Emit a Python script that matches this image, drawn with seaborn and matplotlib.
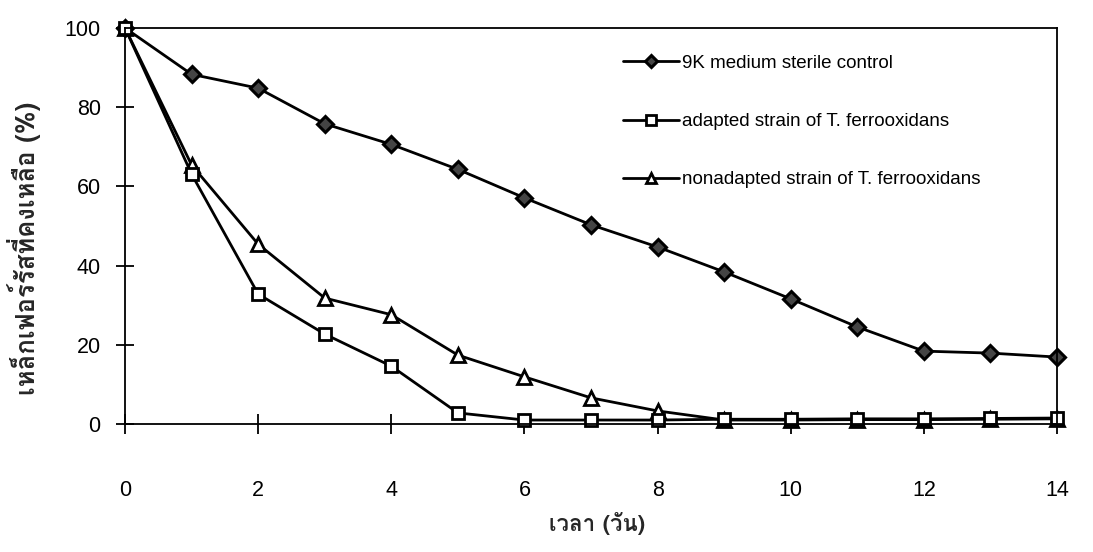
import matplotlib
matplotlib.use("Agg")
import matplotlib.pyplot as plt
import seaborn as sns
import pandas as pd
from matplotlib import font_manager
from matplotlib.ft2font import FT2Font

# ---- data ----
days = list(range(15))
control = [100, 88.3, 84.8, 75.8, 70.6, 64.3, 57.1, 50.3, 44.7, 38.4, 31.6, 24.5, 18.4, 17.9, 16.9]
adapted = [100, 63.1, 32.8, 22.7, 14.6, 2.8, 1.0, 1.0, 1.0, 1.2, 1.2, 1.3, 1.3, 1.4, 1.5]
nonadapted = [100, 65.4, 45.4, 31.8, 27.6, 17.4, 11.9, 6.6, 3.3, 1.0, 1.0, 1.1, 1.1, 1.2, 1.3]
series_labels = ["9K medium sterile control",
                 "adapted strain of T. ferrooxidans",
                 "nonadapted strain of T. ferrooxidans"]
xticks = [0, 2, 4, 6, 8, 10, 12, 14]
yticks = [0, 20, 40, 60, 80, 100]
xlabel = "เวลา (วัน)"
ylabel = "เหล็กเฟอร์รัสที่คงเหลือ (%)"

sns.set_theme(style="white")
plt.rcParams['font.family'] = ['Liberation Sans', 'DejaVu Sans']


def find_thai_family():
    best = None
    for f in font_manager.fontManager.ttflist:
        try:
            ft = FT2Font(f.fname)
            if ft.get_char_index(ord('ก')) and ft.get_char_index(ord('ว')):
                w = f.weight if isinstance(f.weight, int) else 400
                score = 1 if w >= 600 else 0
                if best is None or score > best[0]:
                    best = (score, f.name)
        except Exception:
            pass
    return best[1] if best else None


thai = find_thai_family()
thai_family = [thai, 'DejaVu Sans'] if thai else ['DejaVu Sans']

fig = plt.figure(figsize=(10.93, 5.52), dpi=100)
ax = fig.add_axes([0.1144, 0.2319, 0.8527, 0.7174])

common = dict(color="black", linewidth=2.0, clip_on=False, markeredgecolor="black")
sns.lineplot(x=days, y=control, ax=ax, marker="D", markersize=8,
             markerfacecolor="#444444", markeredgewidth=2.2, **common)
h1 = ax.lines[-1]
sns.lineplot(x=days, y=nonadapted, ax=ax, marker="^", markersize=10,
             markerfacecolor="white", markeredgewidth=2.0, **common)
h3 = ax.lines[-1]
sns.lineplot(x=days, y=adapted, ax=ax, marker="s", markersize=9,
             markerfacecolor="white", markeredgewidth=2.0, **common)
h2 = ax.lines[-1]

ax.set_xlim(0, 14)
ax.set_ylim(0, 100)
ax.set_xticks(xticks)
ax.set_yticks(yticks)
ax.set_xticklabels([str(t) for t in xticks])
ax.set_yticklabels([str(t) for t in yticks])

for s in ax.spines.values():
    s.set_color("black")
    s.set_linewidth(1.3)
    s.set_visible(True)

ax.tick_params(axis="y", direction="inout", length=13, width=1.3, pad=11,
               labelsize=15.5, colors="black", left=True)
ax.tick_params(axis="x", direction="inout", length=14, width=1.3, pad=33,
               labelsize=15.5, colors="black", bottom=True)

ax.set_xlabel(xlabel, family=thai_family, fontweight="bold", fontsize=16)
ax.set_ylabel(ylabel, family=thai_family, fontweight="bold", fontsize=18.5)
ax.xaxis.set_label_coords(0.506, -0.222)
ax.yaxis.set_label_coords(-0.09, 0.443)

leg = ax.legend([h1, h2, h3], series_labels, loc="upper left",
                bbox_to_anchor=(0.534, 0.932), frameon=False, fontsize=13.5,
                handlelength=3.0, handletextpad=0.16, labelspacing=2.19,
                borderpad=0, borderaxespad=0, markerscale=0.75)
for t in leg.get_texts():
    t.set_color("black")

fig.savefig("out.png", dpi=100, facecolor="white")
